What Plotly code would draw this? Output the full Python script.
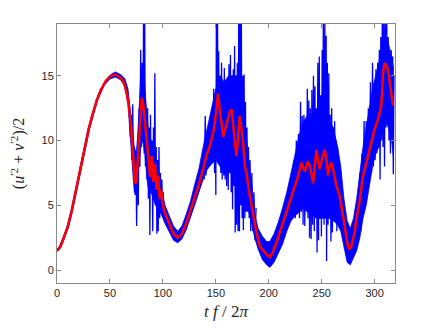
import plotly.graph_objects as go

# ---- red (smoothed) curve ----
red_t = [0, 3, 6, 10, 14, 18, 22, 26, 30, 34, 38, 42, 46, 50, 55, 60, 63, 66, 68, 70,
         72, 73.6, 75, 77, 79, 80, 81.5, 83, 85, 86.5, 88, 89.5, 91, 92.5, 94, 95.5, 97,
         98.5, 100, 102, 106, 110, 114, 118, 122, 126, 130, 134, 138, 141, 144, 146, 148,
         150, 152, 154, 157, 160, 163, 165, 166.5, 168, 169.5, 171, 172.6, 174, 175.8,
         177.5, 179, 181.5, 183.7, 186, 188.4, 191.5, 195, 198, 201, 204, 208, 212, 216.7,
         220, 224.5, 228, 230.8, 232.5, 234, 237, 239.5, 241.8, 243.5, 245, 246.5, 248.1,
         250.5, 252.8, 254.5, 256, 257.5, 259.1, 261.5, 263.9, 267, 269.5, 271.7, 273.5,
         274.8, 276.4, 278, 281.1, 282.7, 285.8, 289, 292.2, 295.3, 298.4, 300, 303.1, 305,
         306.3, 307.2, 307.9, 309.4, 311, 312.6, 314.2, 315.7, 317.3]
red_v = [1.5, 1.8, 2.4, 3.3, 4.6, 6.2, 7.9, 9.5, 10.9, 12.1, 13.2, 14.0, 14.6, 14.95, 15.1,
         14.85, 14.5, 13.6, 12.6, 11.0, 9.0, 6.7, 6.8, 9.5, 12.5, 13.3, 12.8, 11.6, 9.5, 8.3,
         7.2, 8.8, 6.8, 8.2, 6.2, 7.3, 5.5, 6.2, 5.0, 4.4, 3.6, 2.8, 2.5, 2.8, 3.6, 4.6, 5.6,
         6.6, 7.8, 8.8, 9.5, 10.1, 10.8, 12.0, 13.6, 12.2, 10.3, 11.2, 12.2, 12.4, 10.9, 9.8,
         8.8, 10.5, 11.9, 11.0, 9.8, 8.0, 7.5, 6.0, 4.9, 3.8, 2.9, 1.85, 1.5, 1.2, 1.0, 1.4,
         2.3, 3.3, 4.4, 5.2, 6.3, 7.3, 8.3, 8.0, 7.6, 8.4, 7.8, 6.7, 8.2, 9.3, 8.5, 7.8, 8.6,
         9.3, 8.5, 7.3, 8.0, 8.3, 7.5, 6.5, 5.7, 4.6, 3.4, 2.4, 1.85, 1.6, 1.85, 2.9, 3.9,
         5.3, 7.3, 8.3, 9.3, 10.5, 10.9, 11.6, 12.2, 12.7, 14.0, 15.2, 16.0, 15.7, 15.5, 14.5,
         13.4, 12.7]

# ---- blue (raw) signal: dense band envelope ----
env_t = [40, 45, 50, 55, 60, 64, 67, 69, 71, 73, 75, 77, 79, 81, 83, 85, 87, 89, 91, 93, 95,
         97, 99, 102, 106, 110, 114, 118, 122, 126, 130, 134, 138, 142, 146, 150, 154, 158,
         162, 166, 170, 174, 178, 181, 184, 187, 190, 194, 198, 201, 205, 209, 213, 217, 221,
         225, 229, 233, 237, 241, 245, 249, 253, 257, 261, 265, 268, 271, 274, 277, 280, 283,
         286, 289, 292, 295, 298, 301, 304, 307, 310, 313, 316, 318]
env_lo = [13.5, 14.3, 14.75, 14.9, 14.7, 14.2, 12.8, 10.3, 8.0, 6.0, 6.0, 7.5, 9.5, 10.0, 9.0,
          7.0, 6.0, 6.0, 5.5, 5.0, 4.8, 4.5, 4.2, 3.6, 3.0, 2.3, 2.1, 2.4, 3.1, 4.0, 5.0, 6.0,
          7.0, 7.8, 8.2, 8.5, 8.0, 7.5, 7.5, 7.5, 7.0, 6.5, 5.0, 4.5, 3.5, 2.4, 1.6, 0.8, 0.4,
          0.2, 0.6, 1.3, 2.0, 3.0, 3.8, 4.2, 4.5, 4.8, 4.5, 4.3, 4.0, 4.0, 4.0, 4.0, 3.8, 3.5,
          3.0, 1.8, 0.6, 0.4, 0.9, 1.5, 2.5, 4.0, 5.0, 6.5, 8.0, 9.0, 9.5, 10.5, 11.5, 11.0,
          10.0, 8.5]
env_hi = [13.7, 14.5, 15.05, 15.3, 15.1, 14.8, 14.0, 12.4, 11.0, 9.5, 9.0, 11.5, 15.0, 16.0,
          14.0, 12.0, 10.0, 10.0, 9.5, 8.5, 7.5, 7.0, 6.2, 5.0, 4.2, 3.4, 3.0, 3.4, 4.3, 5.3,
          6.6, 7.8, 9.5, 11.0, 12.5, 14.0, 15.0, 14.5, 15.0, 15.0, 15.0, 14.5, 11.0, 8.5, 6.5,
          4.2, 3.2, 2.6, 2.2, 2.2, 2.8, 3.7, 4.8, 6.0, 7.5, 9.0, 10.5, 11.5, 12.0, 12.0, 12.0,
          12.0, 12.0, 11.5, 11.0, 9.5, 8.0, 5.5, 3.8, 3.2, 4.0, 5.5, 7.5, 9.5, 11.0, 12.5, 14.0,
          15.0, 16.0, 17.5, 18.0, 17.5, 16.5, 15.5]

# ---- blue (raw) signal: oscillation extremes in the turbulent stretches ----
osc1_t = [68.5, 69.2, 70, 70.8, 71.5, 72.3, 73, 73.8, 74.5, 75.2, 76, 76.8, 77.5, 78.3, 79,
          79.8, 80.5, 81.2, 81.7, 82.3, 82.8, 83.5, 84.2, 85, 85.6, 86.3, 87, 87.7, 88.3, 89,
          89.7, 90.4, 91.1, 91.8, 92.4, 93, 93.7, 94.3, 95, 95.6, 96.3, 97, 97.7, 98.4, 99,
          99.8, 100.5]
osc1_v = [12.4, 10.3, 12.0, 8.5, 12.8, 7.0, 9.5, 5.8, 9.0, 3.4, 9.5, 5.0, 12.5, 8.0, 17.0,
          9.5, 16.0, 10.0, 19.5, 9.0, 19.5, 8.0, 12.5, 7.0, 12.5, 5.5, 11.0, 2.7, 12.0, 6.0,
          10.0, 3.0, 11.0, 5.5, 15.2, 5.0, 9.5, 2.8, 8.5, 3.0, 9.5, 4.0, 7.5, 4.5, 7.0, 4.2, 6.0]
osc2_t = [138, 139, 140, 140.7, 141.5, 142.3, 143, 144, 145, 145.8, 146.6, 147.4, 148, 148.8,
          149.5, 150, 150.5, 151, 151.6, 152.2, 152.7, 153.3, 154, 154.7, 155.4, 156, 156.8,
          157.5, 158, 158.8, 159.5, 160.2, 161, 161.7, 162.4, 163.1, 163.8, 164.5, 165.2,
          165.8, 166.5, 167.1, 167.7, 168.3, 169, 169.6, 170.3, 171, 171.6, 172.3, 172.9,
          173.5, 174.1, 174.8, 175.5, 176, 176.7, 177.4, 178, 178.7, 179.4, 180, 180.8, 181.5,
          182.3, 183, 184, 185, 186, 187, 188]
osc2_v = [9.2, 7.0, 11.9, 7.3, 10.5, 7.8, 11.0, 8.0, 11.6, 8.2, 12.5, 8.5, 14.0, 7.5, 12.5,
          5.8, 19.5, 9.0, 19.5, 9.5, 16.9, 8.5, 15.0, 7.5, 16.0, 7.0, 14.0, 7.3, 15.6, 7.0,
          14.5, 6.5, 14.0, 6.2, 15.9, 7.5, 16.6, 6.0, 14.5, 4.7, 15.5, 6.5, 17.3, 2.9, 14.0,
          3.5, 16.0, 3.0, 19.5, 3.0, 19.5, 5.0, 19.5, 4.0, 15.0, 3.1, 15.1, 4.0, 13.0, 4.5,
          11.0, 4.5, 9.5, 4.0, 8.5, 3.0, 7.5, 3.0, 6.0, 2.3, 4.8]
osc3_t = [224, 225, 226, 227, 228, 229, 230, 230.8, 231.6, 232.4, 233.2, 234, 234.8, 235.6,
          236.4, 237, 237.8, 238.5, 239.2, 240, 240.7, 241.4, 242.2, 243, 243.6, 244.3, 245,
          245.6, 246.3, 247, 247.7, 248.4, 249, 249.7, 250.4, 251, 251.5, 252.2, 252.9, 253.6,
          254.2, 254.6, 255.3, 256, 256.7, 257.3, 258, 258.7, 259.4, 260.1, 260.8, 261.5,
          262.2, 262.9, 263.6, 264.3, 265, 265.7, 266.4, 267.2, 268, 269, 270]
osc3_v = [8.5, 4.0, 10.0, 4.5, 10.5, 4.0, 13.0, 4.5, 11.9, 3.5, 12.0, 3.4, 11.5, 4.5, 14.0,
          4.0, 13.1, 2.5, 12.5, 2.4, 13.9, 3.5, 15.0, 3.0, 14.2, 4.0, 12.5, 1.35, 16.0, 2.3,
          16.5, 4.0, 13.5, 2.6, 17.0, 4.5, 19.5, 3.5, 19.5, 5.0, 18.1, 0.7, 16.0, 3.5, 15.2,
          4.0, 12.0, 2.2, 12.5, 2.9, 11.0, 4.0, 11.5, 3.9, 10.0, 3.0, 9.5, 4.5, 8.5, 4.0, 7.5,
          3.5, 5.0]
osc4_t = [286, 287, 288, 289, 290, 291, 292, 293, 294, 295, 296, 297, 298, 298.8, 299.6,
          300.4, 301.2, 302, 302.8, 303.6, 304.4, 305.1, 305.8, 306.5, 307.2, 307.9, 308.6,
          309.3, 310, 310.7, 311.4, 312.1, 312.8, 313.5, 314.2, 314.9, 315.6, 316.3, 317,
          317.6, 318.2]
osc4_v = [7.5, 3.0, 9.0, 4.5, 11.5, 5.0, 11.5, 6.0, 12.5, 7.0, 14.5, 7.5, 16.0, 8.0, 14.5,
          8.5, 15.5, 9.0, 16.0, 9.5, 17.0, 7.0, 18.0, 10.0, 19.5, 9.5, 19.5, 8.0, 19.5, 11.0,
          19.5, 11.5, 18.0, 10.0, 16.8, 9.0, 17.0, 10.0, 16.5, 7.4, 15.0]

x_ticks = [0, 50, 100, 150, 200, 250, 300]
y_ticks = [0, 5, 10, 15]

for a, b in [(red_t, red_v), (env_t, env_lo), (env_t, env_hi), (osc1_t, osc1_v),
             (osc2_t, osc2_v), (osc3_t, osc3_v), (osc4_t, osc4_v)]:
    assert len(a) == len(b), (len(a), len(b))

BLUE = "rgb(0,0,255)"
RED = "rgb(255,0,0)"

osc_x, osc_y = [], []
for tt, vv in [(osc1_t, osc1_v), (osc2_t, osc2_v), (osc3_t, osc3_v), (osc4_t, osc4_v)]:
    osc_x += list(tt) + [None]
    osc_y += list(vv) + [None]

fig = go.Figure()
# early part of the blue signal coincides with the red curve
fig.add_trace(go.Scatter(x=red_t[:12], y=red_v[:12], mode="lines",
                         line=dict(color=BLUE, width=2.5), hoverinfo="skip"))
fig.add_trace(go.Scatter(x=env_t, y=env_lo, mode="lines",
                         line=dict(color=BLUE, width=0.8), hoverinfo="skip"))
fig.add_trace(go.Scatter(x=env_t, y=env_hi, mode="lines", fill="tonexty",
                         fillcolor=BLUE, line=dict(color=BLUE, width=0.8), hoverinfo="skip"))
fig.add_trace(go.Scatter(x=osc_x, y=osc_y, mode="lines",
                         line=dict(color=BLUE, width=1.3), connectgaps=False, hoverinfo="skip"))
fig.add_trace(go.Scatter(x=red_t, y=red_v, mode="lines",
                         line=dict(color=RED, width=2.5), hoverinfo="skip"))

axis_common = dict(
    showgrid=False, zeroline=False, showline=True, linecolor="#8a8a8a", linewidth=1,
    mirror="ticks", ticks="inside", ticklen=4, tickcolor="#8a8a8a", tickwidth=1,
    automargin=False,
    tickfont=dict(family="Liberation Sans, Arial, sans-serif", size=11, color="#262626"),
)

fig.update_layout(
    width=437, height=328,
    margin=dict(l=57, r=42, t=24, b=45),
    paper_bgcolor="white", plot_bgcolor="white",
    showlegend=False,
    xaxis=dict(range=[0, 319.2], tickvals=x_ticks, ticktext=[str(v) for v in x_ticks],
               title=dict(text="<i>t f</i> / 2<i>π</i>", standoff=6,
                          font=dict(family="Liberation Serif, DejaVu Serif, serif", size=17,
                                    color="#262626")),
               **axis_common),
    yaxis=dict(range=[-1, 19], tickvals=y_ticks, ticktext=[str(v) for v in y_ticks],
               title=dict(text="(<i>u</i><sup>′2</sup> + <i>v</i><sup>′2</sup>)/2", standoff=12,
                          font=dict(family="Liberation Serif, DejaVu Serif, serif", size=16,
                                    color="#262626")),
               **axis_common),
)

fig.write_html("out.html", config={"displayModeBar": False},
               post_script="document.body.style.margin='0';")
